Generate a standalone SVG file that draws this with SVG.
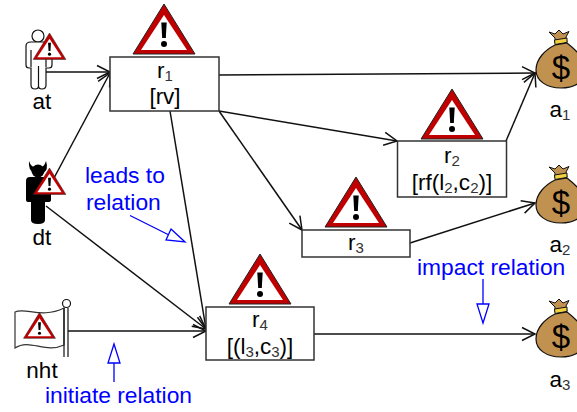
<svg xmlns="http://www.w3.org/2000/svg" width="577" height="412" viewBox="0 0 577 412">
<style>
text{font-family:"Liberation Sans",Arial,sans-serif;font-size:22.5px;fill:#000;text-anchor:middle}
.b{fill:#00f;text-anchor:start;font-size:22.800px}
.s{font-size:15px;fill:#333}
.box{fill:#fff;stroke:#333;stroke-width:1.500}
.c{fill:none;stroke:#111;stroke-width:1.500;marker-end:url(#v)}
.bl{fill:none;stroke:#00f;stroke-width:1.300}
</style>
<defs>
<marker id="v" viewBox="0 0 16 16" refX="14" refY="8" markerWidth="16" markerHeight="16" markerUnits="userSpaceOnUse" orient="auto"><path d="M1 1.500L14 8L1 14.500" fill="none" stroke="#111" stroke-width="1.500"/></marker>
<symbol id="warn" viewBox="0 0 66 54" width="66" height="54" overflow="visible">
<path d="M33 1L64 51H2Z" fill="#c00000" stroke="#222" stroke-width="1"/>
<path d="M33 12L56 47H10Z" fill="#fff"/>
<path d="M30.300 19.500H35.700L34.800 35H31.200Z" fill="#000"/><circle cx="33" cy="41" r="3" fill="#000"/>
</symbol>
<symbol id="bag" viewBox="0 0 52 62" width="52" height="62" overflow="visible">
<path d="M15 3L21 5L25 1L29 5L35 2.500L32 8L33 13L21 14L21 9Z" fill="#c19150" stroke="#111" stroke-width="1"/>
<path d="M20.500 11L33 9V13.500L21 15.500Z" fill="#f0d040" stroke="#111" stroke-width="1"/>
<path d="M21 16C11 21 2 30 2 41C2 52 13 59 27 59C41 59 52 52 52 41C52 30 42 21 33 14Z" fill="#c19150" stroke="#111" stroke-width="1.200"/>
<text x="27" y="50" style="font-size:33px">$</text>
</symbol>
</defs>
<g id="connectors">
<path class="c" d="M46 72H110"/>
<path class="c" d="M54 178L110 73"/>
<path class="c" d="M46 206L206 329"/>
<path class="c" d="M170 111L206 329"/>
<path class="c" d="M68 331H206"/>
<path class="c" d="M219 75L535 73"/>
<path class="c" d="M219 111L397 141"/>
<path class="c" d="M219 111L302 230"/>
<path class="c" d="M506 141L535 73"/>
<path class="c" d="M410 243L535 203"/>
<path class="c" d="M314 334H535"/>
</g>
<g id="node-at">
<circle cx="38" cy="36" r="6" fill="#fff" stroke="#111" stroke-width="1.200"/>
<path d="M31 42H47Q52 42 52 46V65Q52 68 49 68H46V85Q46 89 42 89Q38.500 89 38.500 86Q38.500 89 35 89Q31 89 31 85V68H29Q26 68 26 65V46Q26 42 31 42ZM31 50V67M46 50V67M38.500 66V86" fill="#fff" stroke="#111" stroke-width="1.200"/>
<use href="#warn" x="32" y="32.500" width="35" height="28.500"/>
<text x="42" y="109">at</text>
</g>
<g id="node-dt">
<path d="M29 161Q28 170 34 173H43Q49 170 46 161Q44 167 41 167H35Q31 167 29 161Z" fill="#000"/>
<circle cx="38" cy="171" r="6.500" fill="#000"/>
<path d="M30 177H47Q51 177 51 181V200Q51 202 48 202H45V220Q45 224 38 224Q31 224 31 220V202H28Q26 202 26 200V181Q26 177 30 177Z" fill="#000"/>
<use href="#warn" x="32" y="167.500" width="35" height="28.500"/>
<text x="42" y="245">dt</text>
</g>
<g id="node-nht">
<path d="M15 312C25 307 42 319 64 308V345C45 354 30 338 15 348Z" fill="#fff" stroke="#333" stroke-width="1.200"/>
<path d="M64 308V357M68 308V357" fill="none" stroke="#111" stroke-width="1.200"/>
<circle cx="66.500" cy="303.500" r="4" fill="#fff" stroke="#111" stroke-width="1.200"/>
<use href="#warn" x="22.500" y="312" width="34" height="28"/>
<text x="42" y="378">nht</text>
</g>
<g id="node-r1">
<rect class="box" x="110" y="57" width="109" height="54"/>
<use href="#warn" x="131" y="3"/>
<text x="165" y="78">r<tspan class="s" dy="3">1</tspan></text>
<text x="165" y="104">[rv]</text>
</g>
<g id="node-r2">
<rect class="box" x="397.500" y="141" width="109" height="56"/>
<use href="#warn" x="419" y="88"/>
<text x="452" y="163">r<tspan class="s" dy="3">2</tspan></text>
<text x="452" y="190">[rf(l<tspan class="s" dy="3">2</tspan><tspan dy="-3">,c</tspan><tspan class="s" dy="3">2</tspan><tspan dy="-3">)]</tspan></text>
</g>
<g id="node-r3">
<rect class="box" x="302" y="230" width="108" height="27"/>
<use href="#warn" x="323" y="176"/>
<text x="356" y="250">r<tspan class="s" dy="3">3</tspan></text>
</g>
<g id="node-r4">
<rect class="box" x="206" y="307" width="108" height="53"/>
<use href="#warn" x="227" y="253"/>
<text x="260" y="327">r<tspan class="s" dy="3">4</tspan></text>
<text x="260" y="354">[(l<tspan class="s" dy="3">3</tspan><tspan dy="-3">,c</tspan><tspan class="s" dy="3">3</tspan><tspan dy="-3">)]</tspan></text>
</g>
<g id="node-a1"><use href="#bag" x="534" y="29"/><text x="560" y="117">a<tspan class="s" dy="3">1</tspan></text></g>
<g id="node-a2"><use href="#bag" x="534" y="164"/><text x="560" y="252">a<tspan class="s" dy="3">2</tspan></text></g>
<g id="node-a3"><use href="#bag" x="534" y="298"/><text x="560" y="387">a<tspan class="s" dy="3">3</tspan></text></g>
<g id="annotations">
<path class="bl" d="M130 215.500L168 234.500M171 229L185 242L166 240Z"/>
<path class="bl" d="M114 382V363M108 363H120L114 344Z"/>
<path class="bl" d="M483 279V304M477 304H489L483 323Z"/>
<text class="b" x="85" y="183">leads to</text>
<text class="b" x="86" y="210">relation</text>
<text class="b" x="45" y="403">initiate relation</text>
<text class="b" x="417" y="275">impact relation</text>
</g>
</svg>
